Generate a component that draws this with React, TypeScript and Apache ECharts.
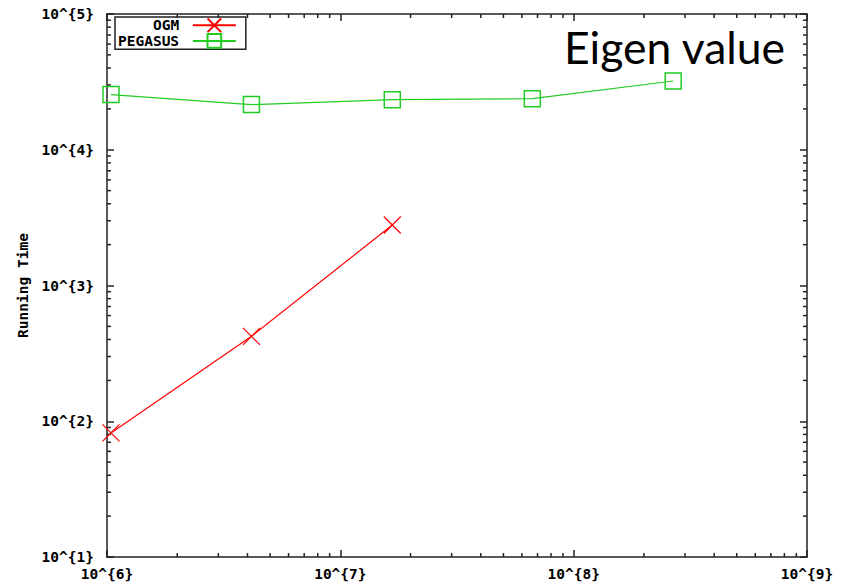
import React, { useEffect, useRef } from 'react';
import * as echarts from 'echarts';

// Number of edges (x) and running time (y)
const edgeCounts = [1.04e6, 4.16e6, 1.67e7, 6.65e7, 2.67e8];
const ogmTimes = [82, 422, 2790];
const pegasusTimes = [25500, 21500, 23400, 23800, 32100];

const seriesNames = ['OGM', 'PEGASUS'];
const xDecades = [6, 7, 8, 9];
const yDecades = [1, 2, 3, 4, 5];
const minorMultipliers = [2, 3, 4, 5, 6, 7, 8, 9];
const chartTitle = 'Eigen value';
const yAxisName = 'Running Time';

const MONO = 'DejaVu Sans Mono';
const AXIS_COLOR = '#222';

function minorValues(decades: number[]): number[] {
  const out: number[] = [];
  for (let i = 0; i < decades.length - 1; i++) {
    for (const m of minorMultipliers) out.push(m * Math.pow(10, decades[i]));
  }
  return out;
}

const fmtPow = (v: number) => `10^{${Math.round(Math.log10(v))}}`;

export default function App() {
  const ref = useRef<HTMLDivElement>(null);
  useEffect(() => {
    if (!ref.current) return;
    const chart = echarts.init(ref.current, undefined, { renderer: 'svg' });
    const xMin = Math.pow(10, xDecades[0]);
    const xMax = Math.pow(10, xDecades[xDecades.length - 1]);
    const yMin = Math.pow(10, yDecades[0]);
    const yMax = Math.pow(10, yDecades[yDecades.length - 1]);
    const labelStyle = {
      fontFamily: MONO,
      fontWeight: 'bold' as const,
      fontSize: 14.5,
      color: '#000',
    };
    const axisBase = {
      type: 'log' as const,
      logBase: 10,
      axisLine: { show: true, lineStyle: { color: AXIS_COLOR, width: 1.5 } },
      axisTick: { show: true, inside: true, length: 7, lineStyle: { color: AXIS_COLOR, width: 1.5 } },
      splitLine: { show: false },
      minorTick: { show: false },
    };
    const tickLine = (x1: number, y1: number, x2: number, y2: number) => ({
      type: 'line',
      shape: { x1, y1, x2, y2 },
      style: { stroke: AXIS_COLOR, lineWidth: 1.5 },
      silent: true,
    });
    chart.setOption({
      animation: false,
      backgroundColor: '#fff',
      title: {
        text: chartTitle,
        left: 564,
        top: 24,
        padding: 0,
        textStyle: { fontFamily: 'Lato', fontWeight: 'normal', fontSize: 44.5, color: '#000' },
      },
      legend: {
        data: seriesNames,
        orient: 'vertical',
        align: 'right',
        left: 115,
        top: 17,
        itemWidth: 43,
        itemHeight: 17,
        itemGap: 0,
        padding: [0.5, 9, 0.5, 3],
        borderColor: AXIS_COLOR,
        borderWidth: 1.5,
        formatter: (name: string) => name + ' ',
        textStyle: { ...labelStyle, width: 72, align: 'right' },
      },
      grid: { left: 107, top: 14, right: 42, bottom: 30, containLabel: false },
      xAxis: [
        {
          ...axisBase,
          min: xMin,
          max: xMax,
          position: 'bottom',
          axisLabel: { ...labelStyle, formatter: fmtPow, margin: 9 },
        },
        {
          ...axisBase,
          min: xMin,
          max: xMax,
          position: 'top',
          axisLabel: { show: false },
        },
      ],
      yAxis: [
        {
          ...axisBase,
          min: yMin,
          max: yMax,
          position: 'left',
          name: yAxisName,
          nameLocation: 'middle',
          nameGap: 71,
          nameTextStyle: { ...labelStyle },
          axisLabel: { ...labelStyle, formatter: fmtPow, margin: 13 },
        },
        {
          ...axisBase,
          min: yMin,
          max: yMax,
          position: 'right',
          axisLabel: { show: false },
        },
      ],
      series: [
        {
          name: seriesNames[0],
          type: 'line',
          data: ogmTimes.map((t, i) => [edgeCounts[i], t]),
          symbol: 'path://M0,0L1,1M1,0L0,1',
          symbolSize: 17,
          lineStyle: { color: '#ff0000', width: 1.2 },
          itemStyle: { color: 'transparent', borderColor: '#ff0000', borderWidth: 1.2 },
          color: '#ff0000',
          z: 3,
        },
        {
          name: seriesNames[1],
          type: 'line',
          data: pegasusTimes.map((t, i) => [edgeCounts[i], t]),
          symbol: 'rect',
          symbolSize: 16,
          lineStyle: { color: '#22cc22', width: 1.2 },
          itemStyle: { color: 'transparent', borderColor: '#22cc22', borderWidth: 1.5 },
          color: '#22cc22',
          z: 3,
        },
        {
          type: 'custom',
          silent: true,
          clip: false,
          xAxisIndex: 0,
          yAxisIndex: 0,
          data: minorValues(xDecades).map((v) => [v, yMin]),
          renderItem: (params: any, api: any) => {
            const cs = params.coordSys;
            const x = api.coord([api.value(0), yMin])[0];
            const b = cs.y + cs.height;
            return {
              type: 'group',
              children: [tickLine(x, b, x, b - 4), tickLine(x, cs.y, x, cs.y + 4)],
            };
          },
        },
        {
          type: 'custom',
          silent: true,
          clip: false,
          xAxisIndex: 0,
          yAxisIndex: 0,
          data: minorValues(yDecades).map((v) => [xMin, v]),
          renderItem: (params: any, api: any) => {
            const cs = params.coordSys;
            const y = api.coord([xMin, api.value(1)])[1];
            const r = cs.x + cs.width;
            return {
              type: 'group',
              children: [tickLine(cs.x, y, cs.x + 4, y), tickLine(r, y, r - 4, y)],
            };
          },
        },
      ],
    });
    return () => chart.dispose();
  }, []);
  return (
    <div
      ref={ref}
      style={{ position: 'fixed', left: 0, top: 0, width: 849, height: 587, background: '#fff' }}
    />
  );
}
